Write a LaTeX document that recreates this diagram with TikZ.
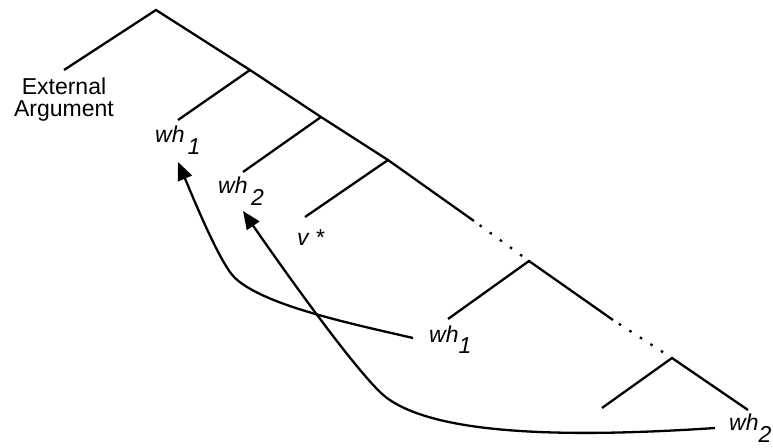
\documentclass[tikz,border=0pt]{standalone}
\usepackage{fontspec}
\setmainfont{Liberation Sans}
\usetikzlibrary{arrows.meta}
\begin{document}
\begin{tikzpicture}[x=1pt,y=-1pt,
  branch/.style={line width=2.3pt},
  dotbranch/.style={line width=2.3pt, dash pattern=on 2.5pt off 10pt, dash phase=5.5pt},
  movearrow/.style={line width=2.3pt, -{Triangle[length=18pt,width=15pt]}},
  lbl/.style={font=\fontsize{23}{22}\selectfont, inner sep=0pt, anchor=base west},
]
\useasboundingbox (0,0) rectangle (773,447);
% tree points
\coordinate (r)  at (156,10);
\coordinate (ea) at (64,70);
\coordinate (n1) at (250,70);
\coordinate (l1) at (178,120);
\coordinate (n2) at (321,117);
\coordinate (l2) at (243,172);
\coordinate (n3) at (388,160);
\coordinate (l3) at (305,217);
\coordinate (s3) at (474,221);
\coordinate (n4) at (529,261);
\coordinate (l4) at (448,319);
\coordinate (s4) at (613,320);
\coordinate (n5) at (672,358);
\coordinate (l5) at (602,408);
\coordinate (r5) at (748,410);

\draw[branch] (ea) -- (r) -- (n1) -- (n2) -- (n3) -- (s3);
\draw[branch] (n1) -- (l1);
\draw[branch] (n2) -- (l2);
\draw[branch] (n3) -- (l3);
\draw[dotbranch] (s3) -- (n4);
\draw[branch] (l4) -- (n4) -- (s4);
\draw[dotbranch] (s4) -- (n5);
\draw[branch] (l5) -- (n5) -- (r5);

% labels
\node[font=\fontsize{23}{22}\selectfont, inner sep=0pt, align=center] (ext) at (64,100) {External\\Argument};
\node[lbl] (wh1a) at (155,142) {\itshape wh\kern3pt\raisebox{-12pt}{1}};
\node[lbl] (wh2a) at (218,193) {\itshape wh\kern3.5pt\raisebox{-12pt}{2}};
\node[lbl] (vstar) at (297,245) {\itshape v *};
\node[lbl] (wh1b) at (429,342) {\itshape wh\raisebox{-11pt}{1}};
\node[lbl] (wh2b) at (729,430) {\itshape wh\raisebox{-12pt}{2}};

% movement arrows
\coordinate (a1s) at (413,338);
\coordinate (a1m) at (235,278);
\coordinate (a1t) at (178,162);
\coordinate (a2s) at (715,428);
\coordinate (a2m) at (387,398);
\coordinate (a2t) at (243,211);
\draw[movearrow] (a1s) .. controls (353,324) and (265,306) .. (a1m)
                       .. controls (220,264) and (192,195) .. (a1t);
\draw[movearrow] (a2s) .. controls (580,437) and (440,437) .. (a2m)
                       .. controls (362,380) and (283,269) .. (a2t);
\end{tikzpicture}
\end{document}
